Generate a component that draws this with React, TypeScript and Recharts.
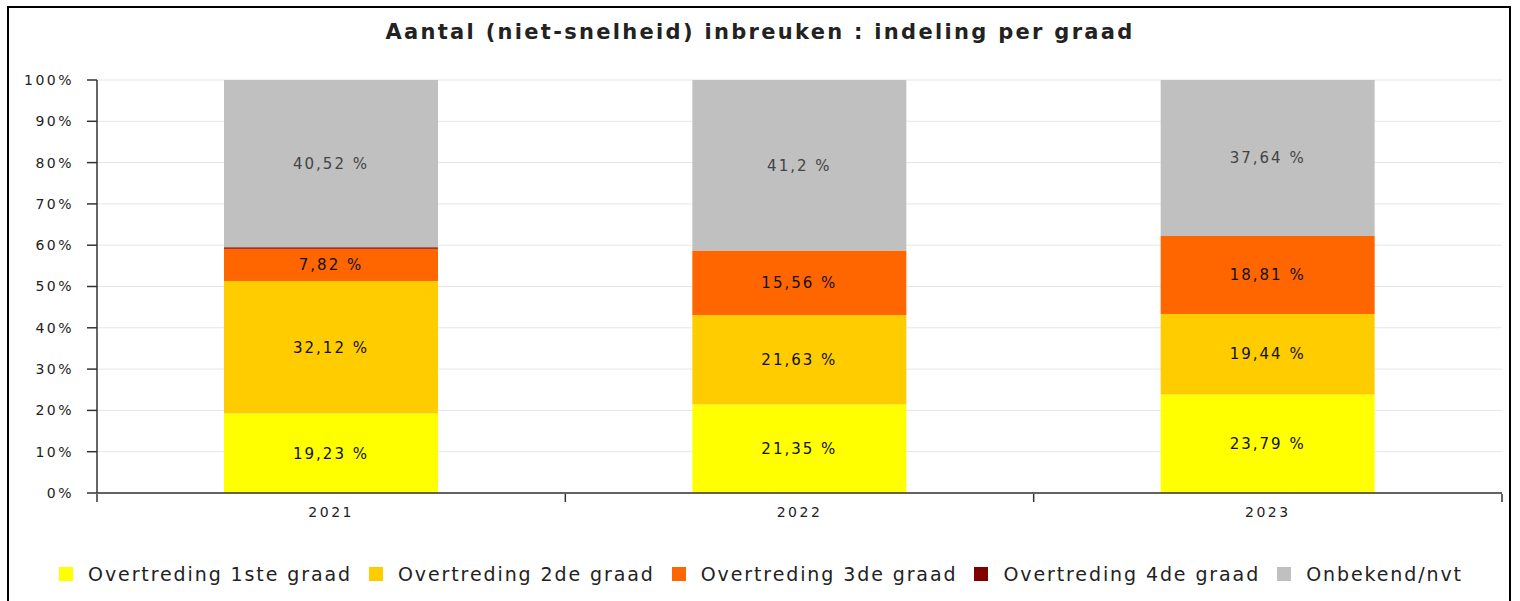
import { BarChart, Bar, XAxis, YAxis, CartesianGrid, LabelList } from 'recharts';

const years = ['2021', '2022', '2023'];
const graad1 = [19.23, 21.35, 23.79];
const graad2 = [32.12, 21.63, 19.44];
const graad3 = [7.82, 15.56, 18.81];
const graad4 = [0.31, 0, 0];
const onbekend = [40.52, 41.2, 37.64];
const yTicks = [0, 0.1, 0.2, 0.3, 0.4, 0.5, 0.6, 0.7, 0.8, 0.9, 1];

const series = [
  { key: 'g1', name: 'Overtreding 1ste graad', color: '#FFFF00', values: graad1, label: '#111' },
  { key: 'g2', name: 'Overtreding 2de graad', color: '#FFCC00', values: graad2, label: '#111' },
  { key: 'g3', name: 'Overtreding 3de graad', color: '#FF6600', values: graad3, label: '#111' },
  { key: 'g4', name: 'Overtreding 4de graad', color: '#800000', values: graad4, label: null },
  { key: 'onb', name: 'Onbekend/nvt', color: '#C0C0C0', values: onbekend, label: '#444' },
];

const data = years.map((year, i) => {
  const row: any = { year };
  series.forEach((s) => (row[s.key] = s.values[i]));
  return row;
});

const fmt = (v: any) => String(v).replace('.', ',') + ' %';
const font = '"DejaVu Sans", sans-serif';

// JFreeChart style: tick marks on the category edges, label in the middle
const YearTick = (props: any) => {
  const { x, y, payload, index, visibleTicksCount } = props;
  const half = payload?.offset || 0;
  const last = index === (visibleTicksCount ?? years.length) - 1;
  return (
    <g>
      <line x1={x - half} x2={x - half} y1={y - 1} y2={y + 7} stroke="#333" strokeWidth={1.5} />
      {last && <line x1={x + half} x2={x + half} y1={y - 1} y2={y + 7} stroke="#333" strokeWidth={1.5} />}
      <text x={x} y={y + 22} textAnchor="middle" fill="#222" fontSize={14} letterSpacing={2.5} fontFamily={font}>
        {payload.value}
      </text>
    </g>
  );
};

export default function App() {
  return (
    <div style={{ position: 'absolute', left: 0, top: 0, width: 1520, height: 601, overflow: 'hidden', background: '#fff', fontFamily: font }}>
      <div style={{ position: 'absolute', left: 7, top: 6, width: 1504, height: 595, boxSizing: 'border-box', border: '2px solid #000', borderBottom: 'none' }} />
      <div style={{ position: 'absolute', left: 0, top: 20, width: 1520, textAlign: 'center', fontWeight: 'bold', fontSize: 21, letterSpacing: 2.3, color: '#222' }}>
        Aantal (niet-snelheid) inbreuken : indeling per graad
      </div>
      <div style={{ position: 'absolute', left: 0, top: 0 }}>
        <BarChart width={1520} height={601} data={data} stackOffset="expand" margin={{ top: 80, right: 18, left: 17, bottom: 78 }}>
          <CartesianGrid vertical={false} stroke="#e6e6e6" />
          <XAxis
            dataKey="year"
            height={30}
            tickSize={0}
            tickLine={false}
            axisLine={{ stroke: '#333', strokeWidth: 1.5 }}
            tick={<YearTick />}
          />
          <YAxis
            width={80}
            domain={[0, 1]}
            ticks={yTicks}
            tickFormatter={(v) => Math.round(v * 100) + '%'}
            tickSize={10}
            tickMargin={13}
            axisLine={{ stroke: '#333', strokeWidth: 1.5 }}
            tickLine={{ stroke: '#333', strokeWidth: 1.5 }}
            tick={{ fill: '#222', fontSize: 14, letterSpacing: 2.5, fontFamily: font }}
          />
          {series.map((s) => (
            <Bar key={s.key} dataKey={s.key} name={s.name} stackId="a" fill={s.color} barSize={214} isAnimationActive={false}>
              {s.label && (
                <LabelList
                  dataKey={s.key}
                  position="center"
                  formatter={fmt}
                  style={{ fill: s.label, fontSize: 15, letterSpacing: 2, fontFamily: font }}
                />
              )}
            </Bar>
          ))}
        </BarChart>
      </div>
      <div style={{ position: 'absolute', left: 6, top: 563, width: 1510, display: 'flex', justifyContent: 'center', gap: 17, fontSize: 19, letterSpacing: 1.9, color: '#222' }}>
        {series.map((s) => (
          <div key={s.key} style={{ display: 'flex', alignItems: 'center' }}>
            <span style={{ display: 'inline-block', width: 14, height: 14, background: s.color, marginRight: 15 }} />
            <span>{s.name}</span>
          </div>
        ))}
      </div>
    </div>
  );
}
